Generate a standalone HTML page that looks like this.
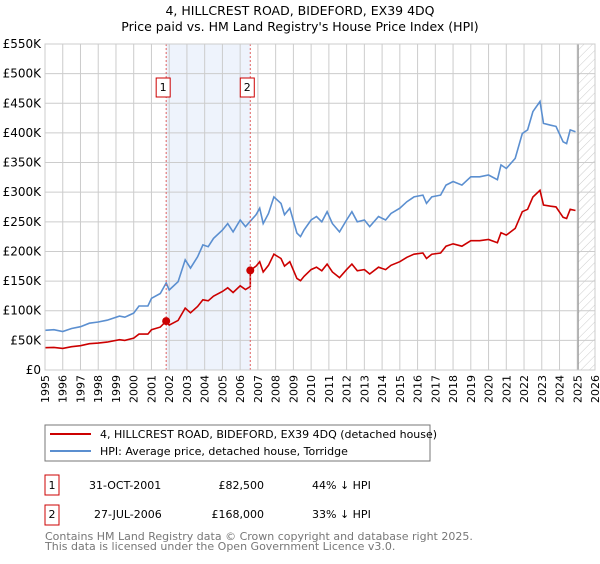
<!DOCTYPE html>
<html><head><meta charset="utf-8"><style>
body{margin:0;background:#fff;font-family:"DejaVu Sans","Liberation Sans",sans-serif;}
svg text{font-family:"DejaVu Sans","Liberation Sans",sans-serif;}
</style></head><body>
<svg id="c" width="600" height="560" xmlns="http://www.w3.org/2000/svg">
<defs><pattern id="hatch" width="6" height="6" patternUnits="userSpaceOnUse" patternTransform="rotate(45)"><line x1="0" y1="0" x2="0" y2="6" stroke="#ccc" stroke-width="1"/></pattern></defs>
<text x="300" y="15" text-anchor="middle" font-size="12.5">4, HILLCREST ROAD, BIDEFORD, EX39 4DQ</text>
<text x="300" y="31" text-anchor="middle" font-size="12.5">Price paid vs. HM Land Registry's House Price Index (HPI)</text>
<g id="plot"></g>
<g>
<rect x="45" y="425" width="385" height="36" fill="#fff" stroke="#777"/>
<line x1="50" y1="434" x2="91" y2="434" stroke="#cc0000" stroke-width="2"/>
<text x="100" y="438" font-size="11">4, HILLCREST ROAD, BIDEFORD, EX39 4DQ (detached house)</text>
<line x1="50" y1="451" x2="91" y2="451" stroke="#5b8fd0" stroke-width="2"/>
<text x="100" y="455" font-size="11">HPI: Average price, detached house, Torridge</text>
</g>
<g font-size="11">
<rect x="45" y="475" width="14" height="20" fill="#fff" stroke="#cc0000"/>
<text x="52" y="489" text-anchor="middle">1</text>
<text x="89" y="489">31-OCT-2001</text>
<text x="264" y="489" text-anchor="end">£82,500</text>
<text x="312" y="489">44% ↓ HPI</text>
<rect x="45" y="505" width="14" height="20" fill="#fff" stroke="#cc0000"/>
<text x="52" y="518" text-anchor="middle">2</text>
<text x="94" y="518">27-JUL-2006</text>
<text x="264" y="518" text-anchor="end">£168,000</text>
<text x="312" y="518">33% ↓ HPI</text>
</g>
<text x="45" y="540" font-size="11" fill="#777">Contains HM Land Registry data © Crown copyright and database right 2025.</text>
<text x="45" y="550" font-size="11" fill="#777">This data is licensed under the Open Government Licence v3.0.</text>
</svg>
<script>
const yearTicks=[1995,1996,1997,1998,1999,2000,2001,2002,2003,2004,2005,2006,2007,2008,2009,2010,2011,2012,2013,2014,2015,2016,2017,2018,2019,2020,2021,2022,2023,2024,2025,2026];
const priceTicks=[0,50,100,150,200,250,300,350,400,450,500,550];
const hpiYears=[1995,1995.5,1996,1996.5,1997,1997.5,1998,1998.5,1999.2,1999.5,2000,2000.3,2000.8,2001,2001.5,2001.83,2002,2002.5,2002.9,2003.2,2003.6,2003.9,2004.2,2004.5,2005,2005.3,2005.6,2006,2006.3,2006.57,2006.9,2007.1,2007.3,2007.6,2007.9,2008.3,2008.5,2008.8,2009.2,2009.4,2009.6,2010,2010.3,2010.6,2010.9,2011.2,2011.6,2012,2012.3,2012.6,2013,2013.3,2013.8,2014.2,2014.5,2015,2015.4,2015.8,2016.3,2016.5,2016.8,2017.3,2017.6,2018,2018.5,2019,2019.5,2020,2020.5,2020.7,2021,2021.5,2021.9,2022.2,2022.5,2022.9,2023.1,2023.5,2023.8,2024.2,2024.4,2024.6,2024.9];
const hpiValues=[67,68,65,70,73,79,81,84,91,89,96,108,108,121,129,147,135,149,186,172,191,211,208,222,236,247,233,253,242,251,262,273,247,264,292,281,262,273,231,225,236,253,259,250,267,247,233,253,267,250,253,242,259,253,264,273,284,292,295,281,292,295,312,318,312,326,326,329,321,346,340,357,399,405,436,453,416,413,411,385,382,405,402];
const saleYears=[2001.83,2006.57];
const salePrices=[82.5,168];
const saleLabels=["1","2"];
const x0=45,x1=595,yTop=44,yBot=370;
const xs=y=>x0+(y-1995)/(2026-1995)*(x1-x0);
const ys=v=>yBot-v/550*(yBot-yTop);
const NS="http://www.w3.org/2000/svg";
const g=document.getElementById('plot');
function mk(t,a){const e=document.createElementNS(NS,t);for(const k in a)e.setAttribute(k,a[k]);g.appendChild(e);return e;}
let e;
e=mk('rect',{x:xs(saleYears[0]),y:yTop,width:xs(saleYears[1])-xs(saleYears[0]),height:yBot-yTop,fill:'#eef3fc'});


const fx=xs(2025.05);
e=mk('rect',{x:fx,y:yTop,width:x1-fx,height:yBot-yTop,fill:'url(#hatch)'});


yearTicks.forEach(yr=>{
 e=mk('line',{x1:xs(yr),x2:xs(yr),y1:yTop,y2:yBot,stroke:'#ccc','stroke-width':1});
 
 
 e=mk('text',{x:0,y:0,'font-size':11,transform:`translate(${xs(yr)+4},${yBot+5}) rotate(-90)`,'text-anchor':'end'});
 e.textContent=yr;
 
 
});
priceTicks.forEach(v=>{
 e=mk('line',{x1:x0,x2:x1,y1:ys(v),y2:ys(v),stroke:'#ccc','stroke-width':1});
 
 
 e=mk('text',{x:x0-4,y:ys(v)+4,'font-size':12,'text-anchor':'end'});
 e.textContent=v===0?'£0':'£'+v+'K';
 
 
});
e=mk('line',{x1:fx,x2:fx,y1:yTop,y2:yBot,stroke:'#999','stroke-width':1.2});


function hpiAt(t){for(let i=1;i<hpiYears.length;i++){if(t<=hpiYears[i]){const f=(t-hpiYears[i-1])/(hpiYears[i]-hpiYears[i-1]);return hpiValues[i-1]+f*(hpiValues[i]-hpiValues[i-1]);}}return hpiValues[hpiValues.length-1];}
const ratios=saleYears.map((s,i)=>salePrices[i]/hpiAt(s));
e=mk('path',{d:hpiYears.map((t,i)=>(i?'L':'M')+xs(t).toFixed(1)+','+ys(hpiValues[i]).toFixed(1)).join(''),fill:'none',stroke:'#5b8fd0','stroke-width':1.6});


const redPts=[];
hpiYears.forEach((t,i)=>{const r=t<saleYears[1]?ratios[0]:ratios[1];if(t<saleYears[1]&&i+1<hpiYears.length&&hpiYears[i+1]>=saleYears[1]){redPts.push([t,hpiValues[i]*r]);redPts.push([saleYears[1],hpiAt(saleYears[1])*ratios[0]]);redPts.push([saleYears[1],salePrices[1]]);}else redPts.push([t,hpiValues[i]*r]);});
e=mk('path',{d:redPts.map((p,i)=>(i?'L':'M')+xs(p[0]).toFixed(1)+','+ys(p[1]).toFixed(1)).join(''),fill:'none',stroke:'#cc0000','stroke-width':1.6});


saleYears.forEach((s,i)=>{
 e=mk('line',{x1:xs(s),x2:xs(s),y1:yTop,y2:yBot,stroke:'#e06060','stroke-width':1,'stroke-dasharray':'2,2'});
 
 
 e=mk('circle',{cx:xs(s),cy:ys(salePrices[i]),r:4,fill:'#cc0000'});
 
 
 e=mk('rect',{x:xs(s)-10,y:78,width:14,height:19,fill:'#fff',stroke:'#cc0000'});
 
 
 e=mk('text',{x:xs(s)-3,y:91,'font-size':11,'text-anchor':'middle'});
 e.textContent=saleLabels[i];
 
 
});
e=mk('rect',{x:x0,y:yTop,width:x1-x0,height:yBot-yTop,fill:'none',stroke:'#ccc'});


</script>
</body></html>
